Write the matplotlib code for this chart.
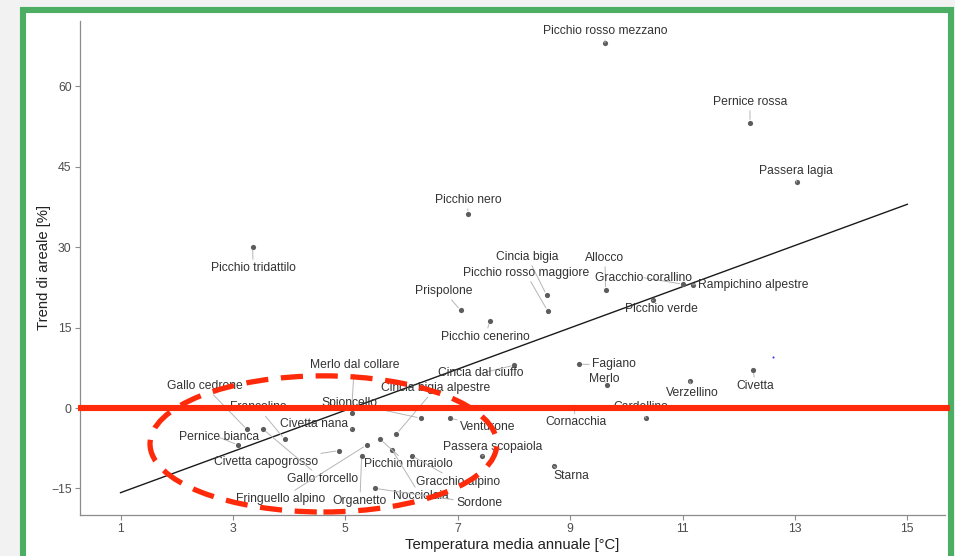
import numpy as np
import matplotlib
matplotlib.use("Agg")
import matplotlib.pyplot as plt
from matplotlib.patches import Ellipse, Rectangle

plt.rcParams['font.family'] = ['Liberation Sans', 'DejaVu Sans']

# --- data: species, mean annual temperature (°C), range trend (%) ---
species = [
    "Picchio rosso mezzano", "Pernice rossa", "Passera lagia", "Picchio nero",
    "Picchio tridattilo", "Cincia bigia", "Picchio rosso maggiore", "Prispolone",
    "Allocco", "Gracchio corallino", "Rampichino alpestre", "Picchio verde",
    "Picchio cenerino", "Fagiano", "Merlo", "Verzellino", "Civetta",
    "Cincia dal ciuffo", "Merlo dal collare", "Cincia bigia alpestre",
    "Gallo cedrone", "Francolino", "Spioncello", "Civetta nana", "Venturone",
    "Cornacchia", "Cardellino", "Pernice bianca", "Passera scopaiola",
    "Civetta capogrosso", "Gallo forcello", "Picchio muraiolo", "Gracchio alpino",
    "Starna", "Fringuello alpino", "Organetto", "Nocciolaia", "Sordone",
]
temperature = [
    9.62, 12.20, 13.03, 7.18,
    3.35, 8.58, 8.60, 7.05,
    9.63, 11.01, 11.18, 10.47,
    7.57, 9.16, 9.65, 11.13, 12.26,
    8.01, 5.11, 5.91,
    3.25, 3.92, 6.34, 5.11, 6.86,
    9.07, 10.35, 3.09, 7.44,
    4.89, 3.53, 5.62, 6.18,
    8.71, 5.38, 5.29, 5.83, 5.53,
]
trend = [
    68.1, 53.2, 42.1, 36.2,
    30.1, 21.1, 18.1, 18.2,
    22.0, 23.1, 23.0, 20.1,
    16.2, 8.15, 4.2, 5.0, 7.1,
    8.0, -0.9, -4.85,
    -4.0, -5.85, -1.9, -3.9, -1.9,
    0.1, -1.9, -6.9, -8.95,
    -7.95, -3.9, -5.85, -8.9,
    -10.9, -6.9, -8.9, -7.8, -15.0,
]

# linear fit shown across the temperature range
fit_slope = 3.843
fit_intercept = -19.64
fit_range = (1.0, 15.0)

# --- repelled label positions (data coordinates) ---
label_x = [
    9.62, 12.20, 13.02, 7.18,
    3.36, 8.24, 8.21, 6.76,
    9.62, 10.31, 12.26, 10.63,
    7.49, 9.78, 9.60, 11.17, 12.29,
    7.41, 5.16, 6.60,
    2.50, 3.45, 5.07, 4.45, 7.53,
    9.10, 10.26, 2.76, 7.62,
    3.59, 4.59, 6.12, 7.00,
    9.03, 3.85, 5.26, 6.34, 7.38,
]
label_y = [
    70.3, 57.1, 44.2, 38.8,
    26.1, 28.2, 25.2, 21.8,
    28.0, 24.3, 22.95, 18.4,
    13.3, 8.15, 5.35, 2.86, 4.1,
    6.47, 8.0, 3.67,
    4.1, 0.1, 1.0, -3.0, -3.5,
    -2.7, 0.1, -5.5, -7.2,
    -10.0, -13.25, -10.5, -13.75,
    -12.7, -17.0, -17.3, -16.4, -17.8,
]

x_ticks = [1, 3, 5, 7, 9, 11, 13, 15]
y_ticks = [-15, 0, 15, 30, 45, 60]

W, H = 955, 556
fig = plt.figure(figsize=(W / 100, H / 100), dpi=100)
fig.patch.set_facecolor('#f2f2f2')

# white card with green frame
fig.add_artist(Rectangle((23 / W, -0.05), (951 - 23) / W, 1.05 - 10 / H,
                         transform=fig.transFigure, facecolor='white',
                         edgecolor='#4cae63', lw=4.4, zorder=-5))

ax = fig.add_axes([80 / W, 1 - 515 / H, (945 - 80) / W, (515 - 21) / H])
ax.set_facecolor('none')
ax.set_xlim(0.279, 15.67)
ax.set_ylim(-19.96, 72.2)

for side in ('top', 'right'):
    ax.spines[side].set_visible(False)
for side in ('left', 'bottom'):
    ax.spines[side].set_color('#8c8c8c')
    ax.spines[side].set_linewidth(0.9)

ax.set_xticks(x_ticks)
ax.set_yticks(y_ticks)
ax.tick_params(axis='both', colors='#8c8c8c', labelcolor='#4d4d4d',
               length=3.5, width=0.8, labelsize=8.8, pad=2.5)

ax.set_xlabel("Temperatura media annuale [°C]", fontsize=10.7, color='#222222', labelpad=2)
ax.set_ylabel("Trend di areale [%]", fontsize=10.7, color='#222222', labelpad=0)

# regression line
xs = np.array(fit_range)
ax.plot(xs, fit_intercept + fit_slope * xs, color='#1a1a1a', lw=1.0, zorder=2)

# points
ax.scatter(temperature, trend, s=14, color='#5c5c5c', linewidths=0, zorder=3)

# labels with leader segments
for name, tx, ty, lx, ly in zip(species, temperature, trend, label_x, label_y):
    ax.annotate(name, xy=(tx, ty), xytext=(lx, ly), textcoords='data',
                ha='center', va='center', fontsize=8.75, color='#333333', zorder=4,
                arrowprops=dict(arrowstyle='-', color='#b5b5b5', lw=0.7,
                                shrinkA=0, shrinkB=2.5))

# stray blue dot
ax.plot([12.61], [9.5], marker='o', ms=1.5, color='#3a3aff', mew=0, zorder=4)

# highlight: zero line and dashed ellipse around the cold-climate species
ax.plot([-0.0023, 1.0058], [0, 0], transform=ax.get_yaxis_transform(),
        color='#fe2a0a', lw=4.4, solid_capstyle='butt', clip_on=False, zorder=6)
ax.add_patch(Ellipse((4.61, -6.7), 6.17, 25.4, fill=False, edgecolor='#fe2a0a',
                     lw=3.8, linestyle=(0, (4.2, 2.4)), clip_on=False, zorder=6))

fig.savefig("out.png", dpi=100)
